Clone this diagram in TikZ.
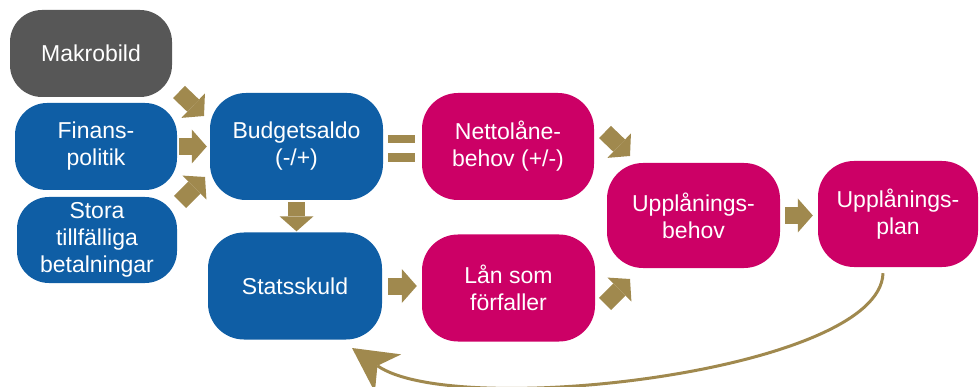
\documentclass[tikz,border=0pt]{standalone}
\usepackage{fontspec}
\setmainfont{Liberation Sans}
\usetikzlibrary{arrows.meta}
\definecolor{goldc}{RGB}{160,137,78}
\definecolor{bluec}{RGB}{15,94,165}
\definecolor{magc}{RGB}{204,0,102}
\definecolor{grayc}{RGB}{87,87,87}
\begin{document}
\begin{tikzpicture}[x=1pt,y=-1pt,
  box/.style={rectangle, rounded corners=36pt, text=white, align=center,
    inner sep=0pt, font=\fontsize{23}{27}\selectfont},
  bluebox/.style={box, fill=bluec},
  magbox/.style={box, fill=magc},
  blockarr/.style={draw=goldc, line width=17pt,
    -{Triangle[length=15pt,width=34pt,line width=0pt]}},
  retarr/.style={draw=goldc, line width=3pt,
    -{Stealth[length=44pt,width=46pt,inset=13pt,line width=0pt]}}]
\useasboundingbox (0,0) rectangle (979,387);

% boxes
\node[box, fill=grayc, minimum width=162pt, minimum height=87pt, rounded corners=32pt] (mak) at (91,53.5) {Makrobild};
\node[bluebox, minimum width=162pt, minimum height=87pt, rounded corners=32pt] (fin) at (96,146.5) {Finans-\\politik};
\node[bluebox, minimum width=160pt, minimum height=86pt, rounded corners=32pt] (sto) at (97,240) {Stora\\tillfälliga\\betalningar};
\node[bluebox, minimum width=173pt, minimum height=107pt] (bud) at (296.5,146.5) {Budgetsaldo\\(-/+)};
\node[bluebox, minimum width=174pt, minimum height=107pt] (sta) at (295,286) {Statsskuld};
\node[magbox, minimum width=172pt, minimum height=107pt] (net) at (508,146.5) {Nettolåne-\\behov (+/-)};
\node[magbox, minimum width=173pt, minimum height=107pt] (lan) at (508.5,288) {Lån som\\förfaller};
\node[magbox, minimum width=173pt, minimum height=105pt] (ubh) at (693.5,215.5) {Upplånings-\\behov};
\node[magbox, minimum width=160pt, minimum height=106pt] (upl) at (898,214) {Upplånings-\\plan};

% diagonal arrow end points
\coordinate (d1a) at (179,92);
\coordinate (d1b) at (204,116);
\coordinate (d2a) at (180,202);
\coordinate (d2b) at (205,177);
\coordinate (d3a) at (605,132);
\coordinate (d3b) at (630,156);
\coordinate (d4a) at (605,304);
\coordinate (d4b) at (630,279);

% block arrows
\draw[blockarr] (d1a) -- (d1b);
\draw[blockarr, shorten <=2pt, shorten >=3pt] (fin.east |- bud.west) -- (bud.west);
\draw[blockarr] (d2a) -- (d2b);
\draw[blockarr, shorten <=2pt, shorten >=1pt] (bud.south) -- (bud.south |- sta.north);
\draw[blockarr, shorten <=6pt, shorten >=5pt] (sta.east) -- (sta.east -| lan.west);
\draw[blockarr] (d3a) -- (d3b);
\draw[blockarr] (d4a) -- (d4b);
\draw[blockarr, shorten <=5pt, shorten >=5pt] (ubh.east) -- (ubh.east -| upl.west);

% equals sign
\fill[goldc] ([xshift=5pt,yshift=3.5pt]bud.east) rectangle ([xshift=32pt,yshift=11.5pt]bud.east);
\fill[goldc] ([xshift=5pt,yshift=-6.5pt]bud.east) rectangle ([xshift=32pt,yshift=-15.5pt]bud.east);

% return curve
\coordinate (rs) at ([xshift=-15pt,yshift=-6pt]upl.south);
\coordinate (re) at (352,348);
\draw[retarr] (rs) .. controls (880,372) and (455,420) .. (re);
\end{tikzpicture}
\end{document}
